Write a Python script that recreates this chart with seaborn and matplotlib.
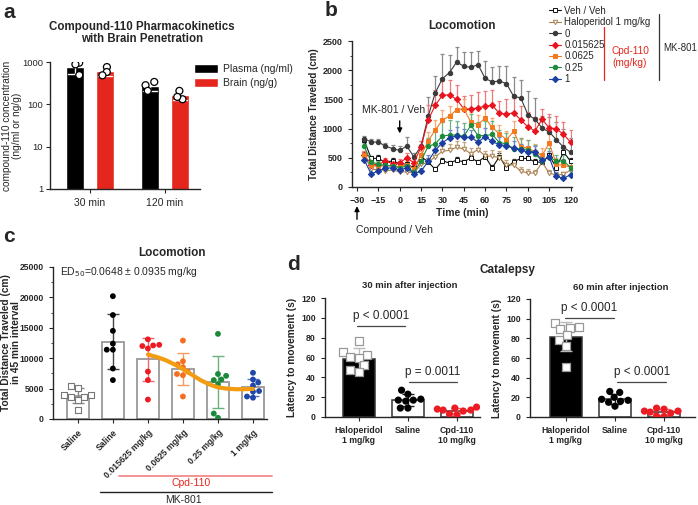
import numpy as np
import pandas as pd
import matplotlib
matplotlib.use("Agg")
import matplotlib.pyplot as plt
import seaborn as sns
from matplotlib.lines import Line2D
from matplotlib.ticker import MultipleLocator, NullLocator

# ---- panel a: PK ----
a_times = ["30 min", "120 min"]
a_tissues = ["Plasma (ng/ml)", "Brain (ng/g)"]
plasma_30 = [960, 880, 490]
brain_30 = [760, 580, 485]
plasma_120 = [338, 283, 208]
brain_120 = [208, 132, 150]

# ---- panel b: locomotion time course (mean, upper SEM) ----
times = [-25, -20, -15, -10, -5, 0, 5, 10, 15, 20, 25, 30, 35, 40, 45,
         50, 55, 60, 65, 70, 75, 80, 85, 90, 95, 100, 105, 110, 115, 120]
b_names = ["Veh / Veh", "Haloperidol 1 mg/kg", "0", "0.015625", "0.0625", "0.25", "1"]
veh = [800, 490, 490, 420, 450, 400, 390, 330, 520, 430, 300, 450, 410, 460, 430,
       500, 430, 520, 330, 520, 330, 430, 490, 490, 430, 420, 540, 330, 600, 440]
halo = [560, 300, 300, 280, 290, 260, 260, 240, 390, 420, 520, 610, 630, 680, 650,
        570, 640, 530, 530, 500, 380, 380, 270, 240, 240, 420, 240, 200, 220, 290]
mk0 = [828, 770, 770, 700, 657, 628, 700, 514, 700, 1210, 1615, 1855, 1960, 2140, 2067,
       2050, 2095, 1860, 1800, 1815, 1770, 1553, 1525, 1240, 1160, 1010, 942, 810, 685, 594]
cpd_a = [554, 383, 383, 445, 400, 417, 497, 417, 685, 1150, 1400, 1570, 1580, 1500, 1340,
         1330, 1360, 1380, 1400, 1260, 1250, 1270, 1150, 1030, 960, 1160, 1010, 1000, 900, 770]
cpd_b = [540, 370, 360, 360, 360, 343, 383, 314, 542, 785, 980, 1140, 1220, 1320, 1340,
         1110, 1070, 1180, 1020, 910, 810, 955, 685, 670, 600, 540, 750, 390, 370, 340]
cpd_c = [697, 430, 390, 370, 360, 330, 360, 250, 450, 697, 740, 873, 890, 890, 870,
         1056, 880, 880, 900, 760, 740, 657, 657, 640, 571, 440, 520, 440, 450, 330]
cpd_d = [470, 220, 280, 320, 330, 290, 330, 230, 270, 440, 630, 760, 840, 880, 850,
         850, 770, 860, 780, 720, 710, 660, 630, 600, 600, 460, 510, 180, 150, 210]
veh_err = [40, 40, 60, 50, 40, 50, 40, 40, 50, 60, 40, 50, 40, 50, 40,
           50, 40, 50, 40, 60, 40, 50, 40, 40, 50, 40, 50, 40, 40, 50]
halo_err = [50, 40, 40, 40, 40, 40, 40, 40, 60, 70, 80, 90, 100, 110, 120,
            100, 110, 90, 100, 110, 90, 90, 70, 60, 50, 60, 50, 40, 40, 50]
mk0_err = [50, 60, 50, 60, 60, 70, 160, 60, 80, 330, 280, 420, 300, 260, 250,
           260, 240, 300, 260, 250, 300, 330, 300, 400, 360, 200, 260, 300, 300, 250]
cpd_a_err = [60, 60, 50, 60, 60, 60, 90, 60, 100, 250, 260, 250, 260, 250, 220,
             250, 260, 270, 260, 220, 250, 260, 240, 250, 240, 180, 240, 220, 220, 200]
cpd_b_err = [60, 50, 50, 50, 50, 50, 60, 50, 80, 150, 160, 170, 160, 170, 160,
             170, 160, 180, 170, 150, 150, 170, 130, 140, 130, 120, 150, 100, 90, 100]
cpd_c_err = [60, 50, 50, 50, 50, 50, 60, 50, 80, 150, 230, 240, 250, 240, 230,
             200, 240, 250, 230, 210, 180, 200, 180, 160, 150, 120, 150, 110, 100, 90]
cpd_d_err = [50, 40, 40, 40, 40, 40, 50, 40, 60, 100, 120, 130, 140, 140, 140,
             130, 140, 150, 140, 130, 120, 130, 110, 110, 100, 90, 100, 70, 60, 60]

# ---- panel c: 45 min totals ----
c_labels = ["Saline", "Saline", "0.015625 mg/kg", "0.0625 mg/kg", "0.25 mg/kg", "1 mg/kg"]
c_keys = ["veh", "mk", "d1", "d2", "d3", "d4"]
c_veh = [5100, 5400, 4000, 3700, 3700, 3900, 3200, 1400]
c_mk = [20200, 17100, 14500, 12400, 11400, 11400, 8300, 6400]
c_d1 = [12200, 13100, 12100, 11600, 12000, 7800, 6400, 3200]
c_d2 = [12900, 9000, 9500, 8500, 7200, 7400, 7800, 3700]
c_d3 = [14000, 7400, 7100, 6500, 6400, 5700, 900, 200]
c_d4 = [7600, 6500, 6000, 5500, 4600, 4500, 3700, 3500]
fit_pos = [2.0, 2.25, 2.5, 2.75, 3.0, 3.25, 3.5, 3.75, 4.0, 4.25, 4.5, 4.75, 5.0]
fit_val = [10600, 10200, 9700, 9000, 8200, 7300, 6400, 5700, 5200, 5000, 4900, 4900, 4950]

# ---- panel d: catalepsy ----
d_labels = ["Haloperidol\n1 mg/kg", "Saline", "Cpd-110\n10 mg/kg"]
d_keys = ["halo", "sal", "cpd"]
d30_halo = [77, 66, 63, 61, 59, 52, 47, 45]
d30_sal = [27, 23, 18, 17, 17, 16, 9, 9]
d30_cpd = [10, 9, 8, 7, 7, 6, 3, 2]
d60_halo = [96, 89, 92, 91, 83, 78, 72, 51]
d60_sal = [26, 25, 20, 18, 17, 16, 15, 11]
d60_cpd = [9, 8, 6, 6, 5, 4, 1, 0.5]

RED = "#E5261C"
sns.set_style("ticks")
plt.rcParams["font.family"] = ["Liberation Sans", "DejaVu Sans"]
plt.rcParams["axes.linewidth"] = 1.0

W, H = 698, 505
fig = plt.figure(figsize=(W / 100, H / 100), dpi=100)


def px_axes(l, t, r, b):
    return fig.add_axes([l / W, 1 - b / H, (r - l) / W, (b - t) / H])


def ftext(x, y, s, **kw):
    kw.setdefault("ha", "center")
    kw.setdefault("va", "center")
    fig.text(x / W, 1 - y / H, s, **kw)


def fline(x0, x1, y0, y1, **kw):
    fig.add_artist(Line2D([x0 / W, x1 / W], [1 - y0 / H, 1 - y1 / H], **kw))


def bold_ticks(ax, size):
    for t in ax.get_xticklabels() + ax.get_yticklabels():
        t.set_fontweight("bold")
        t.set_fontsize(size)


# ================= a =================
ax = px_axes(50, 62, 200, 189)
df_a = pd.DataFrame({
    "time": ["30 min"] * 6 + ["120 min"] * 6,
    "tissue": [a_tissues[0]] * 3 + [a_tissues[1]] * 3 + [a_tissues[0]] * 3 + [a_tissues[1]] * 3,
    "conc": plasma_30 + brain_30 + plasma_120 + brain_120,
})
sns.barplot(data=df_a, x="time", y="conc", hue="tissue", order=a_times, hue_order=a_tissues,
            palette=["black", RED], saturation=1, errorbar="sd", capsize=0.35,
            err_kws={"color": "white", "linewidth": 1.0}, width=0.8, gap=0.4, ax=ax)
np.random.seed(4)
sns.stripplot(data=df_a, x="time", y="conc", hue="tissue", order=a_times, hue_order=a_tissues,
              dodge=True, palette=["white", "white"], edgecolor="black", linewidth=0.9,
              size=5, jitter=0.12, legend=False, ax=ax)
ax.set_yscale("log")
ax.set_ylim(1, 1000)
ax.set_xlim(-0.533, 1.467)
ax.set_yticks([1, 10, 100, 1000])
ax.set_yticklabels(["1", "10", "100", "1000"])
ax.yaxis.set_minor_locator(NullLocator())
ax.set_xlabel("")
ax.set_ylabel("compound-110 concentration\n(ng/ml or ng/g)", fontsize=7.3, linespacing=1.0)
ax.yaxis.set_label_coords(-0.185, 0.5)
ax.tick_params(axis="x", labelsize=7.5, length=3)
ax.tick_params(axis="y", labelsize=6.8, length=3, pad=2)
h, l = ax.get_legend_handles_labels()
ax.legend(h, l, loc="upper left", bbox_to_anchor=(190 / W, 1 - 60 / H),
          bbox_transform=fig.transFigure, frameon=False, fontsize=7.5,
          handlelength=2.3, handleheight=1.0, labelspacing=0.35, borderaxespad=0,
          handletextpad=0.5)
sns.despine(ax=ax)
ftext(142, 33, "Compound-110 Pharmacokinetics\nwith Brain Penetration",
      fontweight="bold", fontsize=8.3, linespacing=1.05)

# ================= b =================
ax = px_axes(352, 41, 572, 187)
b_vals = [veh, halo, mk0, cpd_a, cpd_b, cpd_c, cpd_d]
b_errs = [veh_err, halo_err, mk0_err, cpd_a_err, cpd_b_err, cpd_c_err, cpd_d_err]
b_cols = ["#111111", "#A98050", "#3A3A3A", "#E8141E", "#F47A20", "#1E8C3C", "#1A3FA0"]
b_ecols = ["#222222", "#C4A47A", "#8A8A8A", "#F0787C", "#F8A870", "#6DB282", "#6F88C8"]
b_marks = ["s", "v", "o", "D", "s", "o", "D"]
b_mfc = ["white", "white", None, None, None, None, None]
for vals, errs, c, ec, m, mfc, name in zip(b_vals, b_errs, b_cols, b_ecols, b_marks, b_mfc, b_names):
    ax.errorbar(times, vals, yerr=[np.zeros(len(vals)), errs], fmt="none", ecolor=ec,
                elinewidth=0.9, capsize=1.6, capthick=0.9, zorder=1)
    sns.lineplot(x=times, y=vals, ax=ax, color=c, marker=m, markersize=3.2,
                 markerfacecolor=mfc if mfc else c, markeredgecolor=c, markeredgewidth=0.7,
                 linewidth=0.8, label=name, zorder=2)
h, l = ax.get_legend_handles_labels()
ax.legend_.remove()
fig.legend(h, l, loc="upper left", bbox_to_anchor=(545 / W, 1 - 2 / H), frameon=False,
           fontsize=7, handlelength=1.2, labelspacing=0.14, borderaxespad=0,
           handletextpad=0.4)
ax.set_xlim(-33.5, 121)
ax.set_ylim(0, 2500)
ax.set_xticks([-30, -15, 0, 15, 30, 45, 60, 75, 90, 105, 120])
ax.set_yticks([0, 500, 1000, 1500, 2000, 2500])
ax.yaxis.set_minor_locator(MultipleLocator(250))
ax.tick_params(length=3, which="major")
ax.tick_params(length=1.8, which="minor")
bold_ticks(ax, 6.5)
ax.set_xlabel("Time (min)", fontweight="bold", fontsize=7.5, labelpad=2)
ax.set_ylabel("Total Distance Traveled (cm)", fontweight="bold", fontsize=7, labelpad=3)
sns.despine(ax=ax)
ax.set_title("Locomotion", fontweight="bold", fontsize=8.5, pad=9)
ax.text(-4, 1320, "MK-801 / Veh", ha="center", va="center", fontsize=7.5)
ax.annotate("", xy=(0, 870), xytext=(0, 1180),
            arrowprops=dict(arrowstyle="-|>", color="black", lw=1.0, mutation_scale=7))
ax.annotate("", xy=(-30, -280), xytext=(-30, -600), annotation_clip=False,
            arrowprops=dict(arrowstyle="-|>", color="black", lw=1.0, mutation_scale=7))
ax.text(-30.5, -740, "Compound / Veh", ha="left", va="center", fontsize=7.5, clip_on=False)
fline(604, 604, 27, 80, color=RED, lw=0.9)
ftext(630, 51, "Cpd-110", color=RED, fontsize=7.3)
ftext(630, 63, "(mg/kg)", color=RED, fontsize=7.3)
fline(659, 659, 14, 80, color="#333333", lw=0.9)
ftext(663, 48, "MK-801", ha="left", fontsize=7)

# ================= c =================
ax = px_axes(53, 267, 267, 419)
c_groups = [c_veh, c_mk, c_d1, c_d2, c_d3, c_d4]
df_c = pd.DataFrame({"grp": [k for k, g in zip(c_keys, c_groups) for _ in g],
                     "val": [v for g in c_groups for v in g]})
c_pt = ["#888888", "black", "#ED1C24", "#F37021", "#1A8A3A", "#1F48A8"]
c_err = ["#888888", "#444444", "#F2676C", "#F59A60", "#6BB07F", "#5877C0"]
sns.barplot(data=df_c, x="grp", y="val", order=c_keys, errorbar=None, color="white",
            edgecolor="#999999", linewidth=1.3, width=0.62, ax=ax)
for i, g in enumerate(c_groups):
    ax.errorbar(i, np.mean(g), yerr=np.std(g, ddof=1), color=c_err[i], capsize=4.2,
                elinewidth=1.0, capthick=1.0, zorder=3)
sns.swarmplot(data=df_c[df_c.grp == "veh"], x="grp", y="val", order=c_keys, marker="s",
              color="white", edgecolor="#777777", linewidth=0.8, size=4.2, ax=ax, zorder=4)
sns.swarmplot(data=df_c[df_c.grp != "veh"], x="grp", y="val", order=c_keys, hue="grp",
              hue_order=c_keys[1:], palette=c_pt[1:], size=4.2, legend=False, ax=ax, zorder=4)
sns.lineplot(x=fit_pos, y=fit_val, color="#F39C12", linewidth=3.0, ax=ax, zorder=5)
ax.set_xlim(-0.71, 5.4)
ax.set_ylim(0, 25000)
ax.set_yticks([0, 5000, 10000, 15000, 20000, 25000])
ax.yaxis.set_minor_locator(MultipleLocator(2500))
ax.set_xticks(range(6))
ax.set_xticklabels(c_labels, rotation=45, ha="right", rotation_mode="anchor")
ax.tick_params(length=3, which="major")
ax.tick_params(length=1.8, which="minor")
bold_ticks(ax, 6.2)
ax.set_xlabel("")
ax.set_ylabel("Total Distance Traveled (cm)\nin 45 min interval", fontweight="bold",
              fontsize=7.3, linespacing=1.0)
ax.yaxis.set_label_coords(-0.148, 0.5)
sns.despine(ax=ax)
ax.text(0.035, 0.965, "ED$_{50}$=0.0648 ± 0.0935 mg/kg", transform=ax.transAxes,
        ha="left", va="center", fontsize=7.5)
ftext(172, 253, "Locomotion", fontweight="bold", fontsize=8.5)
fline(119, 272, 476, 476, color="#F08A8A", lw=1.3)
ftext(191, 483, "Cpd-110", color=RED, fontsize=7.5)
fline(100, 272, 492, 492, color="#222222", lw=1.0)
ftext(183, 500, "MK-801", fontsize=7.5)


# ================= d =================
def catalepsy(ax, g_halo, g_sal, g_cpd, brackets):
    groups = [g_halo, g_sal, g_cpd]
    df = pd.DataFrame({"grp": [k for k, g in zip(d_keys, groups) for _ in g],
                       "val": [v for g in groups for v in g]})
    sns.barplot(data=df, x="grp", y="val", order=d_keys, hue="grp", hue_order=d_keys,
                palette=["black", "white", "white"], saturation=1, errorbar=None,
                edgecolor="#333333", linewidth=1.1, width=0.66, legend=False, ax=ax)
    ecol = ["#BBBBBB", "#222222", "#F2676C"]
    for i, g in enumerate(groups):
        ax.errorbar(i, np.mean(g), yerr=np.std(g, ddof=1), color=ecol[i], capsize=4,
                    elinewidth=1.0, capthick=1.0, zorder=3)
    sns.swarmplot(data=df[df.grp == "halo"], x="grp", y="val", order=d_keys, marker="s",
                  color="white", edgecolor="#999999", linewidth=0.9, size=5.2, ax=ax, zorder=4)
    sns.swarmplot(data=df[df.grp != "halo"], x="grp", y="val", order=d_keys, hue="grp",
                  hue_order=["sal", "cpd"], palette=["black", "#ED1C24"], size=5.2,
                  legend=False, ax=ax, zorder=4)
    for x0, x1, y, txt in brackets:
        ax.plot([x0, x1], [y, y], color="#444444", lw=0.9, clip_on=False)
        ax.text((x0 + x1) / 2, y + 4, txt, ha="center", va="bottom", fontsize=8.5,
                clip_on=False)
    ax.set_ylim(0, 120)
    ax.set_yticks([0, 20, 40, 60, 80, 100, 120])
    ax.set_xticks(range(3))
    ax.set_xticklabels(d_labels)
    ax.tick_params(length=3)
    bold_ticks(ax, 6.3)
    ax.set_xlabel("")
    ax.set_ylabel("Latency to movement (s)", fontweight="bold", fontsize=7.3, labelpad=3)
    sns.despine(ax=ax)


ax = px_axes(325, 298, 480, 417)
catalepsy(ax, d30_halo, d30_sal, d30_cpd,
          [(-0.04, 0.94, 92, "p < 0.0001"), (1.02, 2.0, 35.5, "p = 0.0011")])
ax.set_xlim(-0.69, 2.47)
ax = px_axes(530, 299, 695, 417)
catalepsy(ax, d60_halo, d60_sal, d60_cpd,
          [(-0.02, 0.98, 100.5, "p < 0.0001"), (1.05, 2.04, 36, "p < 0.0001")])
ax.set_xlim(-0.73, 2.63)
ftext(507, 270, "Catalepsy", fontweight="bold", fontsize=8.5)
ftext(410, 286, "30 min after injection", fontweight="bold", fontsize=6.8)
ftext(621, 287, "60 min after injection", fontweight="bold", fontsize=6.8)

# panel letters
for x, y, s in [(9, 12, "a"), (331, 11, "b"), (9, 236, "c"), (294, 264, "d")]:
    ftext(x, y, s, fontweight="bold", fontsize=15)

fig.savefig("out.png", dpi=100)
